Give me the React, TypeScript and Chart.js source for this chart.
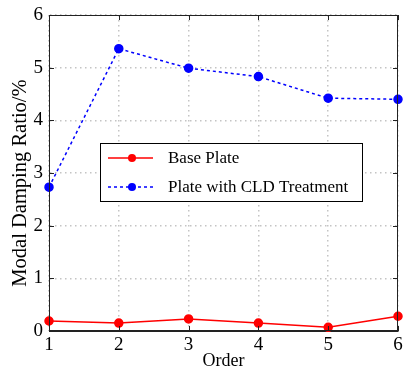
import React, { useEffect, useRef } from "react";
import { Chart, registerables } from "chart.js";

Chart.register(...registerables);

const orders = [1, 2, 3, 4, 5, 6];
const basePlate = [0.19, 0.15, 0.23, 0.15, 0.07, 0.28];
const cldPlate = [2.73, 5.36, 4.99, 4.83, 4.42, 4.4];
const yTicks = [0, 1, 2, 3, 4, 5, 6];
const seriesLabels = ["Base Plate", "Plate with CLD Treatment"];
const xTitle = "Order";
const yTitle = "Modal Damping Ratio/%";

const FONT = "'Liberation Serif', 'Times New Roman', serif";

const framePlugin = {
  id: "frameAndLegend",
  afterDraw(chart: any) {
    const { ctx, chartArea } = chart;
    const { left, right, top, bottom } = chartArea;
    const xs = chart.scales.x;
    const ys = chart.scales.y;
    ctx.save();
    ctx.strokeStyle = "#222";
    ctx.lineWidth = 1;
    ctx.setLineDash([]);
    ctx.strokeRect(left + 0.5, top + 0.5, right - left - 1, bottom - top - 1);
    const tl = 5;
    ctx.beginPath();
    orders.forEach((o) => {
      const px = Math.round(xs.getPixelForValue(o)) + 0.5;
      ctx.moveTo(px, bottom);
      ctx.lineTo(px, bottom - tl);
      ctx.moveTo(px, top);
      ctx.lineTo(px, top + tl);
    });
    yTicks.forEach((v) => {
      const py = Math.round(ys.getPixelForValue(v)) + 0.5;
      ctx.moveTo(left, py);
      ctx.lineTo(left + tl, py);
      ctx.moveTo(right, py);
      ctx.lineTo(right - tl, py);
    });
    ctx.stroke();

    // y axis title
    ctx.save();
    ctx.translate(21, (top + bottom) / 2 + 10);
    ctx.rotate(-Math.PI / 2);
    ctx.fillStyle = "#000";
    ctx.font = `20.5px ${FONT}`;
    ctx.textAlign = "center";
    ctx.textBaseline = "middle";
    ctx.fillText(yTitle, 0, 0);
    ctx.restore();

    // legend
    const lx = 100, ly = 143, lw = 262, lh = 58;
    ctx.fillStyle = "#fff";
    ctx.fillRect(lx, ly, lw, lh);
    ctx.strokeStyle = "#000";
    ctx.strokeRect(lx + 0.5, ly + 0.5, lw, lh);
    chart.data.datasets.forEach((ds: any, i: number) => {
      const cy = ly + 15 + i * 29;
      ctx.strokeStyle = ds.borderColor;
      ctx.lineWidth = ds.borderWidth;
      ctx.setLineDash(ds.borderDash || []);
      ctx.beginPath();
      ctx.moveTo(lx + 8, cy);
      ctx.lineTo(lx + 53, cy);
      ctx.stroke();
      ctx.setLineDash([]);
      ctx.fillStyle = ds.pointBackgroundColor;
      ctx.beginPath();
      ctx.arc(lx + 32, cy, 4, 0, Math.PI * 2);
      ctx.fill();
      ctx.fillStyle = "#000";
      ctx.font = `17px ${FONT}`;
      ctx.textBaseline = "middle";
      ctx.textAlign = "left";
      ctx.fillText(ds.label, lx + 68, cy + 1);
    });
    ctx.restore();
  },
};

export default function App() {
  const ref = useRef<HTMLCanvasElement>(null);
  useEffect(() => {
    if (!ref.current) return;
    const chart = new Chart(ref.current, {
      type: "line",
      data: {
        datasets: [
          {
            label: seriesLabels[0],
            data: orders.map((o, i) => ({ x: o, y: basePlate[i] })),
            borderColor: "#ff0000",
            backgroundColor: "#ff0000",
            pointBackgroundColor: "#ff0000",
            pointBorderColor: "#ff0000",
            borderWidth: 1.5,
            pointRadius: 4,
            clip: false,
          },
          {
            label: seriesLabels[1],
            data: orders.map((o, i) => ({ x: o, y: cldPlate[i] })),
            borderColor: "#0000ff",
            backgroundColor: "#0000ff",
            pointBackgroundColor: "#0000ff",
            pointBorderColor: "#0000ff",
            borderWidth: 1.5,
            borderDash: [3, 3],
            pointRadius: 4,
            clip: false,
          },
        ],
      },
      options: {
        animation: false,
        responsive: false,
        layout: { padding: { left: 8, top: 15, right: 10, bottom: 0 } },
        plugins: { legend: { display: false }, tooltip: { enabled: false } },
        scales: {
          x: {
            type: "linear",
            min: 1,
            max: 6,
            afterFit: (s: any) => { s.height = 41; s.paddingLeft = 0; s.paddingRight = 0; },
            ticks: { stepSize: 1, color: "#000", padding: 3, font: { family: FONT, size: 19 } },
            grid: { color: "#c4c4c4", lineWidth: 1.5, drawTicks: false },
            border: { display: true, color: "#222", dash: [1.5, 3.5] },
            title: { display: true, text: xTitle, color: "#000", padding: { top: -6, bottom: 0 }, font: { family: FONT, size: 18 } },
          },
          y: {
            min: 0,
            max: 6,
            afterFit: (s: any) => { s.width = 41; s.paddingTop = 0; s.paddingBottom = 0; },
            ticks: { stepSize: 1, color: "#000", padding: 6, font: { family: FONT, size: 19 } },
            grid: { color: "#c4c4c4", lineWidth: 1.5, drawTicks: false },
            border: { display: true, color: "#222", dash: [1.5, 3.5] },
            title: { display: false, text: yTitle },
          },
        },
      },
      plugins: [framePlugin],
    } as any);
    return () => chart.destroy();
  }, []);
  return (
    <div style={{ position: "fixed", left: 0, top: 0, width: 408, height: 372, background: "#fff" }}>
      <canvas ref={ref} width={408} height={372} />
    </div>
  );
}
